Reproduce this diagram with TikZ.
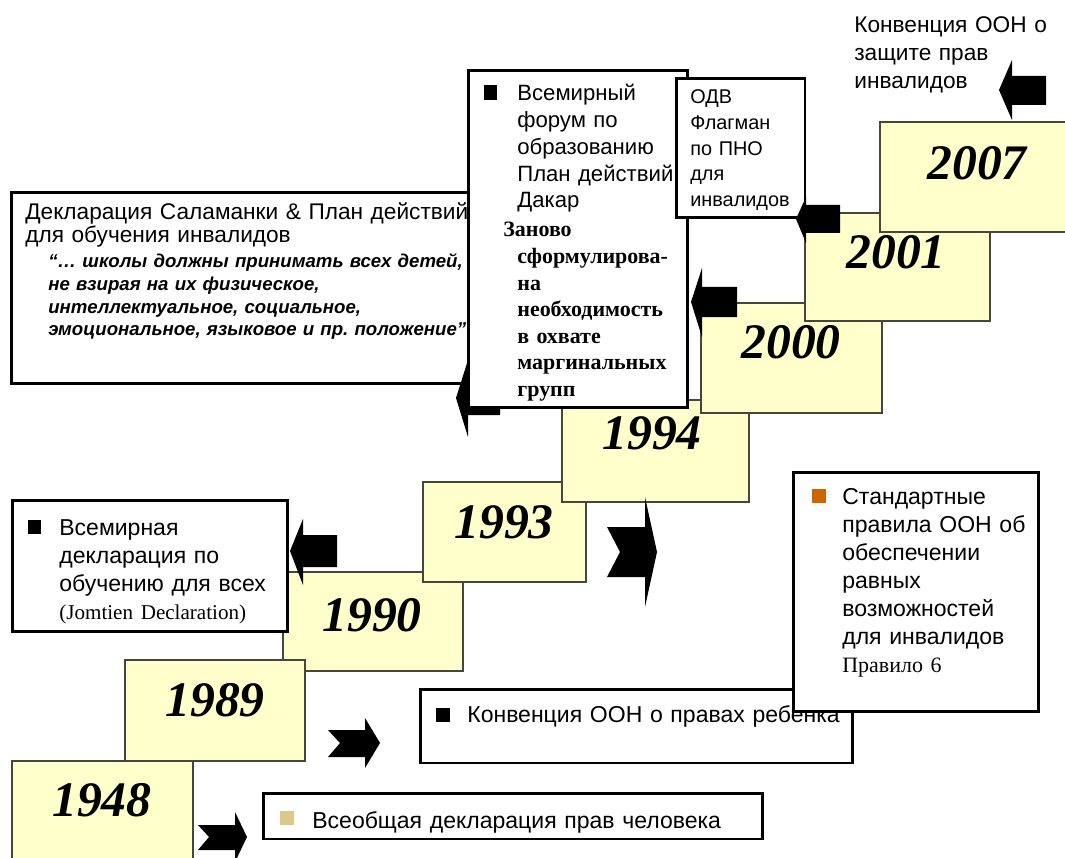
\documentclass[tikz,border=0pt]{standalone}
\usepackage{fontspec}
\setmainfont{Liberation Serif}
\setsansfont{Liberation Sans}
\usepackage{tikz}
\usetikzlibrary{positioning}
\definecolor{yearfill}{RGB}{255, 255, 204}
\definecolor{yearline}{RGB}{70, 70, 60}
\definecolor{bulletorange}{RGB}{204, 102, 0}
\definecolor{bullettan}{RGB}{222, 200, 135}
\frenchspacing

\tikzset{
  yearbox/.style={draw=yearline, line width=0.8pt, fill=yearfill, inner sep=0pt},
  yearlabel/.style={font=\fontsize{28.3}{30}\selectfont\bfseries\itshape, inner sep=0pt},
  notebox/.style={draw=black, line width=1.7pt, fill=white, inner sep=0pt},
  notetext/.style={anchor=base west, inner sep=0pt, align=left, text width=#1},
  sanstext/.style={font=\sffamily\fontsize{13.1}{16}\selectfont},
  sqbullet/.style={fill=#1, minimum size=0.28cm, inner sep=0pt},
  blockarrow/.style={fill=black}
}

\begin{document}
\begin{tikzpicture}[x=0.02cm, y=-0.02cm]
  \clip (0,0) rectangle (1065,858);

  % Year steps
  \node[yearbox, minimum width=3.6cm, minimum height=1.98cm] (b1990) at (373,621.5) {};
  \node[yearlabel] (l1990) at (372,615) {1990};
  \node[yearbox, minimum width=3.6cm, minimum height=2.02cm] (b1989) at (215,710.5) {};
  \node[yearlabel] (l1989) at (215,700) {1989};
  \node[yearbox, minimum width=3.62cm, minimum height=2.02cm] (b1948) at (102.5,811.5) {};
  \node[yearlabel] (l1948) at (102,800) {1948};
  \node[yearbox, minimum width=3.26cm, minimum height=2cm] (b1993) at (504.5,532) {};
  \node[yearlabel] (l1993) at (504,522) {1993};
  \node[yearbox, minimum width=3.74cm, minimum height=2.04cm] (b1994) at (655.5,451) {};
  \node[yearlabel] (l1994) at (652,433) {1994};
  \node[yearbox, minimum width=3.62cm, minimum height=2.2cm] (b2000) at (791.5,358) {};
  \node[yearlabel] (l2000) at (791,342) {2000};
  \node[yearbox, minimum width=3.7cm, minimum height=2.16cm] (b2001) at (897.5,267) {};
  \node[yearlabel] (l2001) at (896,252) {2001};
  \node[yearbox, minimum width=4cm, minimum height=2.2cm] (b2007) at (980,177) {};
  \node[yearlabel] (l2007) at (977,163) {2007};

  % Salamanca
  \node[notebox, minimum width=9.38cm, minimum height=3.84cm] (salambox) at (245.5,288) {};
  \node[notetext=9.8cm, font=\sffamily\fontsize{12.9}{12.7}\selectfont] (salamtext) at (25,220)
    {Декларация Саламанки \& План действий\\для обучения инвалидов};
  \node[notetext=8.6cm, font=\sffamily\bfseries\itshape\fontsize{10.6}{12.9}\selectfont] (salamquote) at (48,268)
    {“… школы должны принимать всех детей,\\не взирая на их физическое,\\интеллектуальное, социальное,\\эмоциональное, языковое и пр. положение”};
  \fill[blockarrow] (456,398) -- (468,360) -- (468,381) -- (500,381) -- (500,415) -- (468,415) -- (468,437) -- cycle;

  % Dakar
  \node[notebox, minimum width=4.4cm, minimum height=6.76cm] (forumbox) at (578,239) {};
  \node[sqbullet=black, minimum width=0.26cm, minimum height=0.3cm] (forumbullet) at (490.5,92.5) {};
  \node[notetext=3.6cm, font=\sffamily\fontsize{12.6}{15.2}\selectfont] (forumtext) at (517,101)
    {Всемирный\\форум по\\образованию\\План действий,\\Дакар};
  \node[notetext=3.6cm, font=\bfseries\fontsize{12.5}{15.1}\selectfont] (forumnote) at (517,237)
    {\hspace*{-0.28cm}Заново\\сформулирова-\\на\\необходимость\\в охвате\\маргинальных\\групп};

  % EFA flagship
  \node[notebox, minimum width=2.58cm, minimum height=2.8cm] (odvbox) at (740.5,148) {};
  \node[notetext=2.5cm, font=\sffamily\fontsize{11.3}{14.6}\selectfont] (odvtext) at (690,104)
    {ОДВ\\Флагман\\по ПНО\\для\\инвалидов};
  \fill[blockarrow] (691,302) -- (702,268) -- (702,287) -- (737,287) -- (737,317) -- (702,317) -- (702,337) -- cycle;
  \fill[blockarrow] (796,219) -- (806,197) -- (806,205) -- (840,205) -- (840,233) -- (806,233) -- (806,243) -- cycle;

  % CRPD
  \node[notetext=4.2cm, font=\sffamily\fontsize{12.9}{15.9}\selectfont] (crpdtext) at (854,33)
    {Конвенция ООН о\\защите прав\\инвалидов};
  \fill[blockarrow] (999,90) -- (1012,60) -- (1012,76) -- (1046,76) -- (1046,105) -- (1012,105) -- (1012,120) -- cycle;

  % Jomtien
  \node[notebox, minimum width=5.52cm, minimum height=2.64cm] (efabox) at (150,566) {};
  \node[sqbullet=black] (efabullet) at (34.5,526.5) {};
  \node[notetext=4.6cm, sanstext] (efatext) at (59,535)
    {Всемирная\\декларация по\\обучению для всех\\\rmfamily\fontsize{12}{16}\selectfont(Jomtien Declaration)};
  \fill[blockarrow] (290,551) -- (303,519) -- (303,535) -- (337,535) -- (337,567) -- (303,567) -- (303,585) -- cycle;

  % Notched arrows
  \fill[blockarrow] (607,527) -- (645,527) -- (645,497) -- (657,552) -- (645,607) -- (645,577) -- (607,577) -- (620,552) -- cycle;
  \fill[blockarrow] (328,730) -- (365,730) -- (365,718) -- (380,743) -- (365,768) -- (365,757) -- (328,757) -- (340,743) -- cycle;
  \fill[blockarrow] (198,825) -- (235,825) -- (235,812) -- (247,837) -- (235,862) -- (235,850) -- (198,850) -- (209,837) -- cycle;

  % CRC
  \node[notebox, minimum width=8.66cm, minimum height=1.48cm] (crcbox) at (636.5,726) {};
  \node[sqbullet=black] (crcbullet) at (442.5,714.5) {};
  \node[notetext=8cm, sanstext] (crctext) at (467,722) {Конвенция ООН о правах ребенка};

  % Standard rules
  \node[notebox, minimum width=4.92cm, minimum height=4.8cm] (rulesbox) at (916,592) {};
  \node[sqbullet=bulletorange] (rulesbullet) at (818.5,495.5) {};
  \node[notetext=4cm, sanstext] (rulestext) at (842,504)
    {Стандартные\\правила ООН об\\обеспечении\\равных\\возможностей\\для инвалидов\\\rmfamily\fontsize{12.5}{16}\selectfont Правило 6};

  % UDHR
  \node[notebox, minimum width=10cm, minimum height=0.92cm] (udhrbox) at (513,816) {};
  \node[sqbullet=bullettan] (udhrbullet) at (286.5,817.5) {};
  \node[notetext=9cm, sanstext] (udhrtext) at (312,828) {Всеобщая декларация прав человека};
\end{tikzpicture}
\end{document}
